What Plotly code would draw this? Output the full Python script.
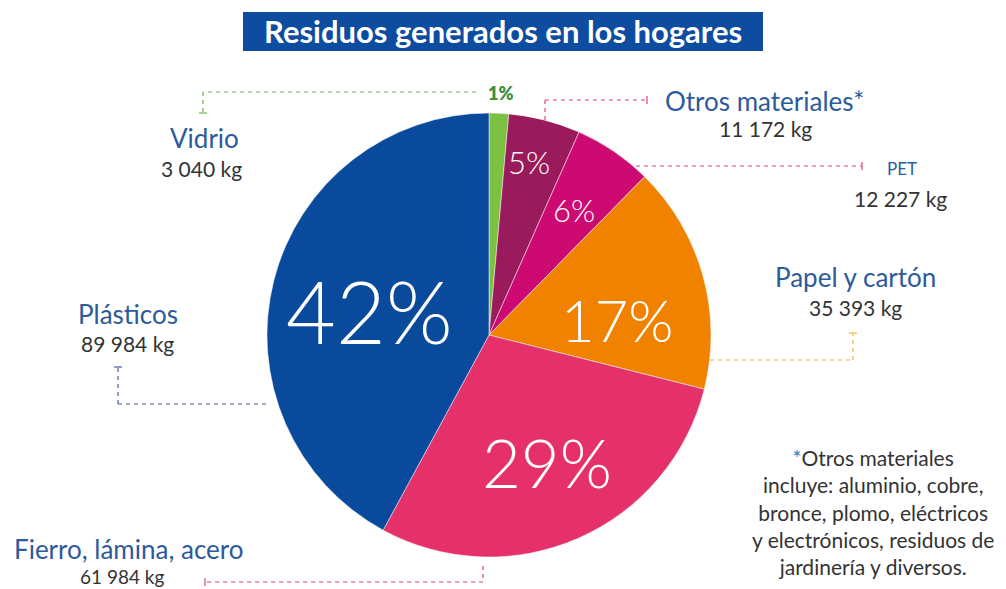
import math
import plotly.graph_objects as go

# Household waste by material (kg), clockwise from 12 o'clock
materials = ["Vidrio", "Otros materiales*", "PET", "Papel y cartón",
             "Fierro, lámina, acero", "Plásticos"]
kilograms = [3040, 11172, 12227, 35393, 61984, 89984]
kg_labels = ["3 040 kg", "11 172 kg", "12 227 kg", "35 393 kg",
             "61 984 kg", "89 984 kg"]
slice_colors = ["#7cc142", "#991b5c", "#cc0a72", "#f18200", "#e5306a", "#0a4a9c"]

W, H = 1006, 589
CX, CY, R = 489, 335, 222  # pie centre and radius in pixels


def px(x):
    return x / W


def py(y):
    return 1 - y / H


fig = go.Figure()
fig.add_trace(go.Pie(
    labels=materials,
    values=kilograms,
    sort=False,
    direction="clockwise",
    rotation=0,
    marker=dict(colors=slice_colors, line=dict(color="rgba(255,255,255,0.6)", width=0.8)),
    textinfo="none",
    hoverinfo="skip",
    showlegend=False,
    domain=dict(x=[px(CX - R), px(CX + R)], y=[py(CY + R), py(CY - R)]),
))

annotations = []


def note(x, y, text, size, color, weight=None, family="Lato", **kw):
    font = dict(family=family, size=size, color=color)
    if weight is not None:
        font["weight"] = weight
    annotations.append(dict(x=px(x), y=py(y), xref="paper", yref="paper",
                            text=text, showarrow=False, font=font,
                            xanchor="center", yanchor="middle", **kw))


# Percentage labels placed at each slice's mid-angle
total = sum(kilograms)
pct_style = {  # radial factor, angle offset (deg), font size
    "Otros materiales*": (0.80, -1.5, 31),
    "PET": (0.68, 0.0, 31),
    "Papel y cartón": (0.585, 9.0, 58),
    "Fierro, lámina, acero": (0.63, -1.0, 67),
    "Plásticos": (0.55, -2.5, 86),
}
cum = 0
for name, v in zip(materials, kilograms):
    share = v / total
    mid = (cum + share / 2) * 360
    cum += share
    if name not in pct_style:
        continue
    rf, off, size = pct_style[name]
    a = math.radians(mid + off)
    note(CX + rf * R * math.sin(a), CY - rf * R * math.cos(a),
         f"{round(share * 100)}%", size, "white", weight=300)

# Small share label for glass, above the pie
note(501, 93, f"{round(kilograms[0] / total * 100)}%", 18, "#3b9140", weight=800)

label_blue = "#2c5a9c"
value_grey = "#333333"
callouts = [  # name label position, value position, name font size, value font size
    ("Vidrio", (204, 138), (201, 168), 26, 21),
    ("Otros materiales*", (764, 101), (765, 129), 26, 21),
    ("PET", (902, 169), (900, 198), 17, 21),
    ("Papel y cartón", (855, 277), (855, 307), 26, 21),
    ("Plásticos", (128, 314), (128, 343), 26, 21),
    ("Fierro, lámina, acero", (129, 549), (122, 576), 26, 19),
]
for name, (nx, ny), (vx, vy), fs, vs in callouts:
    i = materials.index(name)
    note(nx, ny, name, fs, label_blue)
    note(vx, vy, kg_labels[i], vs, value_grey)

# Title
note(503, 31, "<b>Residuos generados en los hogares</b>", 31, "white")

# Footnote
note(873, 512,
     ("<span style='color:#2c7fc0'>*</span>Otros materiales<br>"
      "incluye: aluminio, cobre,<br>bronce, plomo, eléctricos<br>"
      "y electrónicos, residuos de<br>jardinería y diversos."),
     21, "#333333", align="center")

shapes = [dict(type="rect", xref="paper", yref="paper",
               x0=px(243), x1=px(763), y0=py(51), y1=py(12),
               fillcolor="#0d4c9f", line=dict(width=0), layer="below")]


def seg(x0, y0, x1, y1, color, dash="4px,4px", width=1.2):
    shapes.append(dict(type="line", xref="paper", yref="paper",
                       x0=px(x0), y0=py(y0), x1=px(x1), y1=py(y1),
                       line=dict(color=color, width=width, dash=dash)))


# Leader lines with tick ends
green, pink, gold, slate = "#6cb34a", "#e0457b", "#f0b432", "#4c5c9c"
seg(476, 92, 203, 92, green); seg(203, 92, 203, 112, green)
seg(199, 113, 207, 113, green, "solid")
seg(545, 120, 545, 100, pink); seg(545, 100, 647, 100, pink)
seg(647, 96, 647, 104, pink, "solid")
seg(636, 166, 862, 166, pink); seg(862, 162, 862, 170, pink, "solid")
seg(710, 360, 853, 360, gold); seg(853, 360, 853, 334, gold)
seg(849, 333, 857, 333, gold, "solid")
seg(266, 404, 118, 404, slate); seg(118, 404, 118, 368, slate)
seg(114, 367, 122, 367, slate, "solid")
seg(483, 566, 483, 582, pink); seg(483, 582, 205, 582, pink)
seg(205, 578, 205, 586, pink, "solid")

fig.update_layout(
    width=W, height=H,
    margin=dict(l=0, r=0, t=0, b=0),
    paper_bgcolor="white", plot_bgcolor="white",
    annotations=annotations, shapes=shapes,
)
fig.write_html("out.html")
